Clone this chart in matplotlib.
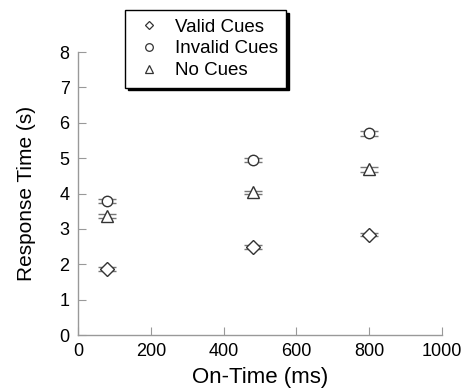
import matplotlib
matplotlib.use("Agg")
import matplotlib.pyplot as plt
from matplotlib.lines import Line2D

plt.rcParams["font.family"] = ["Liberation Sans", "DejaVu Sans"]

# données
on_time = [80, 480, 800]
valid = [1.87, 2.49, 2.84]
invalid = [3.78, 4.95, 5.70]
no_cues = [3.36, 4.03, 4.68]
valid_err = [0.05, 0.05, 0.05]
invalid_err = [0.06, 0.06, 0.07]
no_cues_err = [0.06, 0.05, 0.06]

labels = ["Valid Cues", "Invalid Cues", "No Cues"]
markers = ["D", "o", "^"]

fig = plt.figure(figsize=(4.64, 3.91), dpi=100)
ax = fig.add_axes([0.168, 0.143, 0.785, 0.724])

series = [(valid, valid_err, "D", 7.0), (invalid, invalid_err, "o", 7.5), (no_cues, no_cues_err, "^", 8.0)]
for vals, errs, m, ms in series:
    ax.errorbar(on_time, vals, yerr=errs, fmt=m, markersize=ms,
                markerfacecolor="white", markeredgecolor="#333333", markeredgewidth=1.0,
                ecolor="#777777", elinewidth=0.8, capsize=6.5, capthick=0.9, zorder=3)

ax.set_xlim(0, 1000)
ax.set_ylim(0, 8)
ax.set_xticks([0, 200, 400, 600, 800, 1000])
ax.set_yticks(range(0, 9))
ax.set_xlabel("On-Time (ms)", fontsize=16, labelpad=5)
ax.set_ylabel("Response Time (s)", fontsize=15, labelpad=17)

for s in ["top", "right"]:
    ax.spines[s].set_visible(False)
for s in ["left", "bottom"]:
    ax.spines[s].set_color("#999999")
    ax.spines[s].set_linewidth(1.0)
ax.tick_params(direction="in", length=6, color="#999999", labelsize=13, pad=6)

handles = [Line2D([], [], linestyle="none", marker=m, markersize=5.5 if m != "D" else 4.5,
                  markerfacecolor="white", markeredgecolor="#333333", markeredgewidth=0.9)
           for m in markers]
leg = fig.legend(handles, labels, loc="upper left", bbox_to_anchor=(125 / 464, 1 - 10 / 391),
                 borderaxespad=0, fontsize=13.5, frameon=True, fancybox=False,
                 shadow={"color": "black", "alpha": 1.0},
                 edgecolor="black", handletextpad=0.5, borderpad=0.45,
                 labelspacing=0.25, handlelength=1.7)
leg.get_frame().set_linewidth(1.0)

fig.savefig("out.png", dpi=100)
